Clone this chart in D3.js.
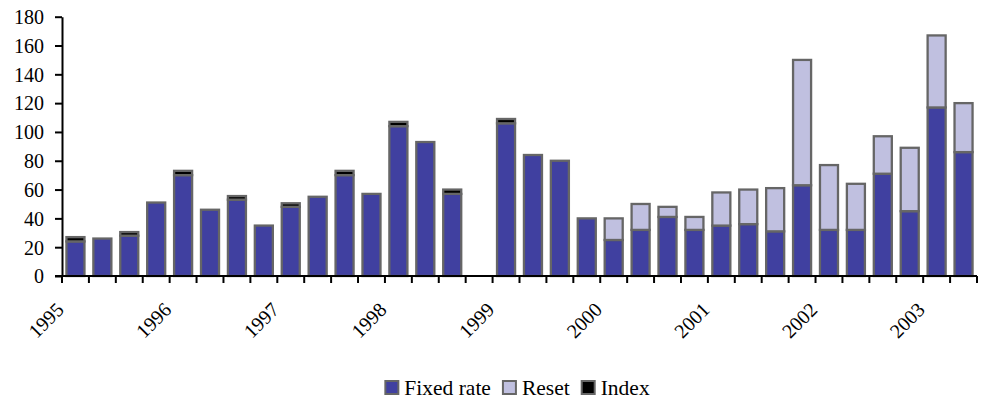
<!DOCTYPE html>
<html>
<head>
<meta charset="utf-8">
<script src="https://cdn.jsdelivr.net/npm/d3@7"></script>
<style>
  html, body { margin: 0; padding: 0; background: #ffffff; }
  svg { display: block; }
</style>
</head>
<body>
<svg id="chart" width="983" height="401"></svg>
<script>
// ---- data ----
const quarters = [
  "1995 Q1","1995 Q2","1995 Q3","1995 Q4",
  "1996 Q1","1996 Q2","1996 Q3","1996 Q4",
  "1997 Q1","1997 Q2","1997 Q3","1997 Q4",
  "1998 Q1","1998 Q2","1998 Q3","1998 Q4",
  "1999 Q1","1999 Q2","1999 Q3","1999 Q4",
  "2000 Q1","2000 Q2","2000 Q3","2000 Q4",
  "2001 Q1","2001 Q2","2001 Q3","2001 Q4",
  "2002 Q1","2002 Q2","2002 Q3","2002 Q4",
  "2003 Q1","2003 Q2"
];
const fixedRate = [24,26,28,51,70,46,53,35,48,55,70,57,104,93,57,0,106,84,80,40,25,32,41,32,35,36,31,63,32,32,71,45,117,86];
const reset     = [0,0,0,0,0,0,0,0,0,0,0,0,0,0,0,0,0,0,0,0,15,18,7,9,23,24,30,87,45,32,26,44,50,34];
const indexVal  = [3,0,2.5,0,3,0,2.5,0,2.5,0,3,0,3,0,3,0,3,0,0,0,0,0,0,0,0,0,0,0,0,0,0,0,0,0];
const yearLabels = ["1995","1996","1997","1998","1999","2000","2001","2002","2003"];
const yTicks = [0,20,40,60,80,100,120,140,160,180];
const seriesNames = ["Fixed rate","Reset","Index"];
const seriesColors = ["#4040A0","#C0C0E0","#000000"];

(function () {
const FONT = '"Liberation Serif", "Times New Roman", serif';
const FS = 20;
const svg = d3.select("#chart");
const mLeft = 62, mRight = 977, mTop = 16.7, mBottom = 276;

const x = d3.scaleBand().domain(quarters).range([mLeft, mRight])
  .paddingInner(0.33).paddingOuter(0.165);
const y = d3.scaleLinear().domain([0, 180]).range([mBottom, mTop]);

const table = quarters.map((q, i) => ({q, "Fixed rate": fixedRate[i], "Reset": reset[i], "Index": indexVal[i]}));
const stack = d3.stack().keys(seriesNames)(table);

// bars
const g = svg.append("g");
stack.forEach((layer, li) => {
  g.selectAll(null).data(layer.filter(d => d[1] - d[0] > 0)).enter().append("rect")
    .attr("x", d => x(d.data.q))
    .attr("width", x.bandwidth())
    .attr("y", d => y(d[1]))
    .attr("height", d => y(d[0]) - y(d[1]))
    .attr("fill", seriesColors[li])
    .attr("stroke", "#666666")
    .attr("stroke-width", 2.3);
});

// y axis
const yAxis = d3.axisLeft(y).tickValues(yTicks).tickSize(7).tickSizeOuter(0).tickPadding(11);
const ya = svg.append("g").attr("transform", `translate(${mLeft},0)`).call(yAxis)
  .attr("font-family", FONT).attr("font-size", FS);
ya.select(".domain").attr("stroke", "#000").attr("stroke-width", 2);
ya.selectAll(".tick line").attr("stroke", "#000").attr("stroke-width", 2);
ya.selectAll(".tick text").attr("dy", "0.34em").attr("fill", "#000");

// x axis
const step = x.step();
const boundaries = quarters.map(q => x(q) - step * x.paddingInner() / 2);
boundaries.push(boundaries[boundaries.length - 1] + step);
svg.append("line").attr("x1", mLeft - 7).attr("x2", mRight).attr("y1", mBottom).attr("y2", mBottom)
  .attr("stroke", "#000").attr("stroke-width", 2);
svg.append("g").selectAll("line").data(boundaries).enter().append("line")
  .attr("x1", d => d).attr("x2", d => d).attr("y1", mBottom).attr("y2", mBottom + 7)
  .attr("stroke", "#000").attr("stroke-width", 2);

svg.append("g").attr("font-family", FONT).attr("font-size", FS)
  .selectAll("text").data(yearLabels).enter().append("text")
  .attr("transform", (d, i) => `translate(${boundaries[i * 4] + 3},${mBottom + 35}) rotate(-45)`)
  .attr("text-anchor", "end")
  .text(d => d);

// legend
const leg = svg.append("g").attr("font-family", FONT).attr("font-size", 21.5);
let lx = 0;
seriesNames.forEach((name, i) => {
  const it = leg.append("g");
  it.append("rect").attr("x", lx + 1).attr("y", 381).attr("width", 13).attr("height", 13)
    .attr("fill", seriesColors[i]).attr("stroke", "#666666").attr("stroke-width", 2);
  const t = it.append("text").attr("x", lx + 20).attr("y", 395).text(name);
  lx += 20 + t.node().getComputedTextLength() + 11;
});
const totalW = lx - 11;
leg.attr("transform", `translate(${517 - totalW / 2},0)`);
})();
</script>
</body>
</html>
